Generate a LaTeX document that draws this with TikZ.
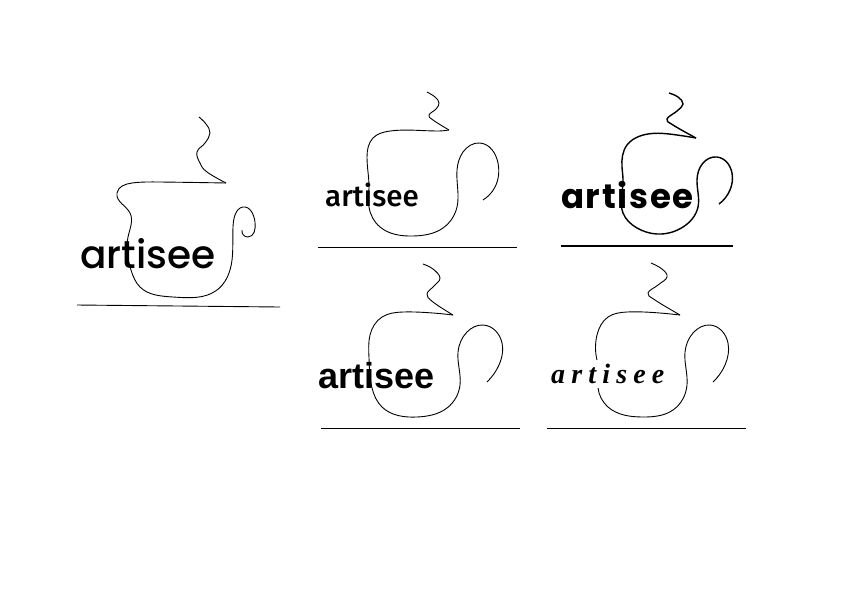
\documentclass[tikz,border=0pt]{standalone}
\usepackage{fontspec}
\usetikzlibrary{hobby}
\newfontfamily\roundfont{Poppins Medium}
\newfontfamily\thinfont{Fira Sans Medium}
\newfontfamily\widefont[LetterSpace=5]{Poppins}
\newfontfamily\plainfont{Liberation Sans}
\newfontfamily\handfont[LetterSpace=22]{Liberation Serif}
\begin{document}
\begin{tikzpicture}[x=1pt, y=-1pt, use Hobby shortcut,
    cup/.style={line width=.9pt},
    steam/.style={line width=.9pt, smooth, tension=.7},
    word/.style={anchor=base west, inner sep=0pt}]
    \useasboundingbox (0,0) rectangle (842,595);

    % large logo
    \draw[steam] plot coordinates {(199,117) (206,124) (210,133) (205,143) (197,152) (200,163) (207,172) (226,183)};
    \draw[cup] (226,183) .. (160,182) .. (132,183) .. (117,193) .. (130,213) .. (128,237) .. (131,270) .. (140,287) .. (173,297) .. (217,290) .. (230,270) .. (233,227) .. (235,215) .. (243,207) .. (255,222) .. (248,237) .. (242,230);
    \draw[line width=.9pt] (77,305) -- (280,307);
    \node[word, font=\roundfont\fontsize{39}{39}\selectfont] (bigword) at (80,268) {artisee};

    % top middle
    \draw[steam] plot coordinates {(427,92) (435,97) (439,103) (436,109) (429,115) (433,120) (449,130)};
    \draw[cup] (449,130) .. (437,131) .. (390,131) .. (373,138) .. (367,157) .. (369,187) .. (369,207) .. (380,227) .. (413,236) .. (443,228) .. (457,207) .. (457,170) .. (463,152) .. (480,143) .. (498,163) .. (495,187) .. (483,200);
    \draw[line width=.9pt] (318,247) -- (517,247);
    \node[word, font=\thinfont\fontsize{29.5}{29.5}\selectfont] (topword) at (325,206) {artisee};

    % top right, heavier
    \draw[steam, line width=1.4pt] plot coordinates {(669,93) (678,97) (683,104) (677,111) (667,119) (673,125) (696,138)};
    \draw[cup, line width=1.4pt] (696,138) .. (677,135) .. (640,136) .. (627,145) .. (622,167) .. (623,180) .. (623,213) .. (637,228) .. (657,234) .. (683,227) .. (698,207) .. (697,180) .. (703,163) .. (717,157) .. (732,173) .. (730,190) .. (719,204);
    \draw[line width=1.4pt] (561,246) -- (733,246);
    \node[word, font=\widefont\bfseries\fontsize{34}{34}\selectfont] (boldword) at (561,208) {artisee};

    % bottom middle
    \draw[steam] plot coordinates {(423,264) (433,269) (440,278) (434,286) (427,294) (433,302) (453,315)};
    \draw[cup] (453,315) .. (433,313) .. (403,312) .. (382,317) .. (370,335) .. (369,358) .. (372,388) .. (382,407) .. (417,417) .. (447,408) .. (460,385) .. (458,352) .. (467,332) .. (483,325) .. (502,343) .. (498,367) .. (487,382);
    \draw[line width=.9pt] (321,428) -- (520,428);
    \node[word, font=\plainfont\bfseries\fontsize{36}{36}\selectfont] (plainword) at (318,388) {artisee};

    % bottom right, the word leaves a gap in the cup
    \draw[steam] plot coordinates {(651,263) (662,269) (667,277) (658,285) (648,293) (655,300) (680,315)};
    \draw[cup] (680,315) .. (660,313) .. (627,312) .. (608,317) .. (597,335) .. (597,360);
    \draw[cup] (598,388) .. (608,407) .. (643,417) .. (673,410) .. (687,385) .. (685,352) .. (693,333) .. (710,325) .. (728,343) .. (725,365) .. (713,382);
    \draw[line width=.9pt] (547,428) -- (746,428);
    \node[word, font=\handfont\itshape\bfseries\fontsize{28}{28}\selectfont] (handword) at (551,383) {artisee};
\end{tikzpicture}
\end{document}
